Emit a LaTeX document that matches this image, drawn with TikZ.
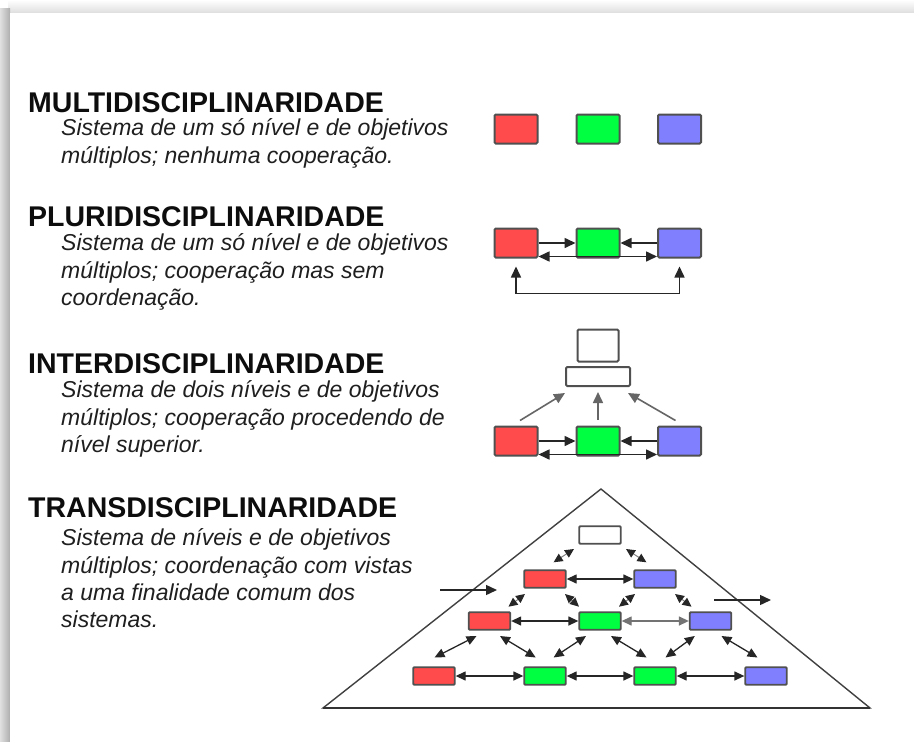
\documentclass[tikz,border=0pt]{standalone}
\usepackage{fontspec}
\setmainfont{Liberation Sans}
\usetikzlibrary{arrows.meta,calc}
\definecolor{bred}{HTML}{FF4B4B}
\definecolor{bgreen}{HTML}{00FF40}
\definecolor{bblue}{HTML}{8080FF}
\definecolor{bord}{HTML}{505050}
\definecolor{arr}{HTML}{262626}
\begin{document}
\begin{tikzpicture}[x=1pt,y=-1pt,
  hd/.style={anchor=base west, inner sep=0, font=\bfseries\fontsize{28.5}{30}\selectfont, text=black!95},
  bd/.style={anchor=base west, inner sep=0, font=\itshape\fontsize{23}{27}\selectfont, text=black!88},
  box/.style={draw=bord, line width=2pt, rounded corners=1.2pt, inner sep=0, minimum width=43pt, minimum height=29pt},
  sbox/.style={draw=bord, line width=1.8pt, rounded corners=1pt, inner sep=0, minimum width=41.5pt, minimum height=17.5pt},
  ar/.style={draw=arr, line width=1.6pt, arrows={-Triangle[length=11pt,width=10pt]}},
  dar/.style={draw=arr, line width=1.6pt, arrows={Triangle[length=11pt,width=10pt]-Triangle[length=11pt,width=10pt]}},
  dd/.style={draw=arr, line width=1.3pt, arrows={Triangle[length=10pt,width=9pt]-Triangle[length=10pt,width=9pt]}},
  sd/.style={draw=black!50, line width=1pt, arrows={Triangle[length=9pt,width=8.5pt,color=arr]-Triangle[length=9pt,width=8.5pt,color=arr]}},
]
\useasboundingbox (0,0) rectangle (914,742);
\fill[white] (0,0) rectangle (914,742);
\shade[top color=white, bottom color=black!13] (8,0) rectangle (914,13);
\shade[left color=black!12, right color=black!32] (0,8) rectangle (10,742);
\fill[white] (10,13) rectangle (914,742);

% ---------- texts ----------
\node[hd] (h1) at (28,112) {MULTIDISCIPLINARIDADE};
\node[bd] (t11) at (61,135) {Sistema de um só nível e de objetivos};
\node[bd] (t12) at (61,163) {múltiplos; nenhuma cooperação.};

\node[hd] (h2) at (28,226) {PLURIDISCIPLINARIDADE};
\node[bd] (t21) at (61,250) {Sistema de um só nível e de objetivos};
\node[bd] (t22) at (61,278) {múltiplos; cooperação mas sem};
\node[bd] (t23) at (61,305) {coordenação.};

\node[hd] (h3) at (28,373) {INTERDISCIPLINARIDADE};
\node[bd] (t31) at (61,397) {Sistema de dois níveis e de objetivos};
\node[bd] (t32) at (61,425) {múltiplos; cooperação procedendo de};
\node[bd] (t33) at (61,452) {nível superior.};

\node[hd] (h4) at (28,517) {TRANSDISCIPLINARIDADE};
\node[bd] (t41) at (61,545) {Sistema de níveis e de objetivos};
\node[bd] (t42) at (61,573) {múltiplos; coordenação com vistas};
\node[bd] (t43) at (61,600) {a uma finalidade comum dos};
\node[bd] (t44) at (61,627) {sistemas.};

% ---------- diagram 1 ----------
\node[box, fill=bred] (m1) at (516,129) {};
\node[box, fill=bgreen] (m2) at (598,129) {};
\node[box, fill=bblue] (m3) at (679.5,129) {};

% ---------- diagram 2 ----------
\node[box, fill=bred] (p1) at (516,243) {};
\node[box, fill=bgreen] (p2) at (598,243) {};
\node[box, fill=bblue] (p3) at (679.5,243) {};
\draw[ar] (p1.east) -- (p2.west);
\draw[ar] (p3.west) -- (p2.east);
\draw[dar] ($(p1.south east)+(0,-2)$) -- ($(p3.south west)+(0,-2)$);
\draw[dar] ($(p1.south)+(0,8)$) -- ($(p1.south)+(0,35)$) -| ($(p3.south)+(0,8)$);

% ---------- diagram 3 ----------
\node[box, fill=white, minimum width=41pt, minimum height=32pt] (it) at (598,345.5) {};
\node[box, fill=white, minimum width=64pt, minimum height=19pt] (iw) at (598,376.5) {};
\node[box, fill=bred] (i1) at (516,441) {};
\node[box, fill=bgreen] (i2) at (598,441) {};
\node[box, fill=bblue] (i3) at (679.5,441) {};
\draw[ar, draw=black!60] ($(i1.north)+(4,-5)$) -- ($(iw.south west)+(0,6)$);
\draw[ar, draw=black!60] ($(i2.north)+(0,-6)$) -- ($(iw.south)+(0,5)$);
\draw[ar, draw=black!60] ($(i3.north)+(-4,-5)$) -- ($(iw.south east)+(-3,6)$);
\draw[ar] (i1.east) -- (i2.west);
\draw[ar] (i3.west) -- (i2.east);
\draw[dar] ($(i1.south east)+(0,-2)$) -- ($(i3.south west)+(0,-2)$);

% ---------- diagram 4 ----------
\draw[draw=black!75, line width=1.4pt] (601,489) -- (870,708) -- (323,708) -- cycle;
\draw[draw=black!80, line width=2.6pt] (323,708) -- (870,708);

\node[sbox, fill=white] (t0) at (600,535) {};
\node[sbox, fill=bred] (a1) at (545,579) {};
\node[sbox, fill=bblue] (a2) at (655,579) {};
\node[sbox, fill=bred] (b1) at (489.5,621) {};
\node[sbox, fill=bgreen] (b2) at (600,621) {};
\node[sbox, fill=bblue] (b3) at (710.5,621) {};
\node[sbox, fill=bred] (c1) at (434,676) {};
\node[sbox, fill=bgreen] (c2) at (545,676) {};
\node[sbox, fill=bgreen] (c3) at (655,676) {};
\node[sbox, fill=bblue] (c4) at (766,676) {};

% horizontal
\draw[dd] (a1.east) -- (a2.west);
\draw[dd] (b1.east) -- (b2.west);
\draw[dd, draw=black!55] (b2.east) -- (b3.west);
\draw[dd] (c1.east) -- (c2.west);
\draw[dd] (c2.east) -- (c3.west);
\draw[dd] (c3.east) -- (c4.west);

% short diagonals
\draw[sd] ($(t0)+(-26,14)$) -- ($(a1)+(8.6,-16.7)$);
\draw[sd] ($(t0)+(26,14)$) -- ($(a2)+(-8.6,-16.7)$);
\draw[sd] ($(a1)+(-20,15)$) -- ($(b1)+(19,-14.3)$);
\draw[sd] ($(a1)+(20,15)$) -- ($(b2)+(-21,-14.3)$);
\draw[sd] ($(a2)+(-20,15)$) -- ($(b2)+(19,-14.3)$);
\draw[sd] ($(a2)+(20,15)$) -- ($(b3)+(-19,-14.3)$);

% long diagonals
\draw[dd] ($(b1)+(-13,15)$) -- ($(c1)+(0.5,-18.5)$);
\draw[dd] ($(b1)+(10.5,15)$) -- ($(c2)+(-9.3,-18.5)$);
\draw[dd] ($(b2)+(-14,15)$) -- ($(c2)+(8.6,-18.5)$);
\draw[dd] ($(b2)+(11,15)$) -- ($(c3)+(-8.4,-18.5)$);
\draw[dd] ($(b3)+(-15.7,15)$) -- ($(c3)+(10.5,-18.5)$);
\draw[dd] ($(b3)+(11,15)$) -- ($(c4)+(-8.5,-18.5)$);

% side arrows
\coordinate (la1) at (440,590);
\coordinate (la2) at (497,590);
\coordinate (ra1) at (714,600);
\coordinate (ra2) at (771,600);
\draw[ar, line width=1.4pt] (la1) -- (la2);
\draw[ar, line width=1.4pt] (ra1) -- (ra2);
\end{tikzpicture}
\end{document}
